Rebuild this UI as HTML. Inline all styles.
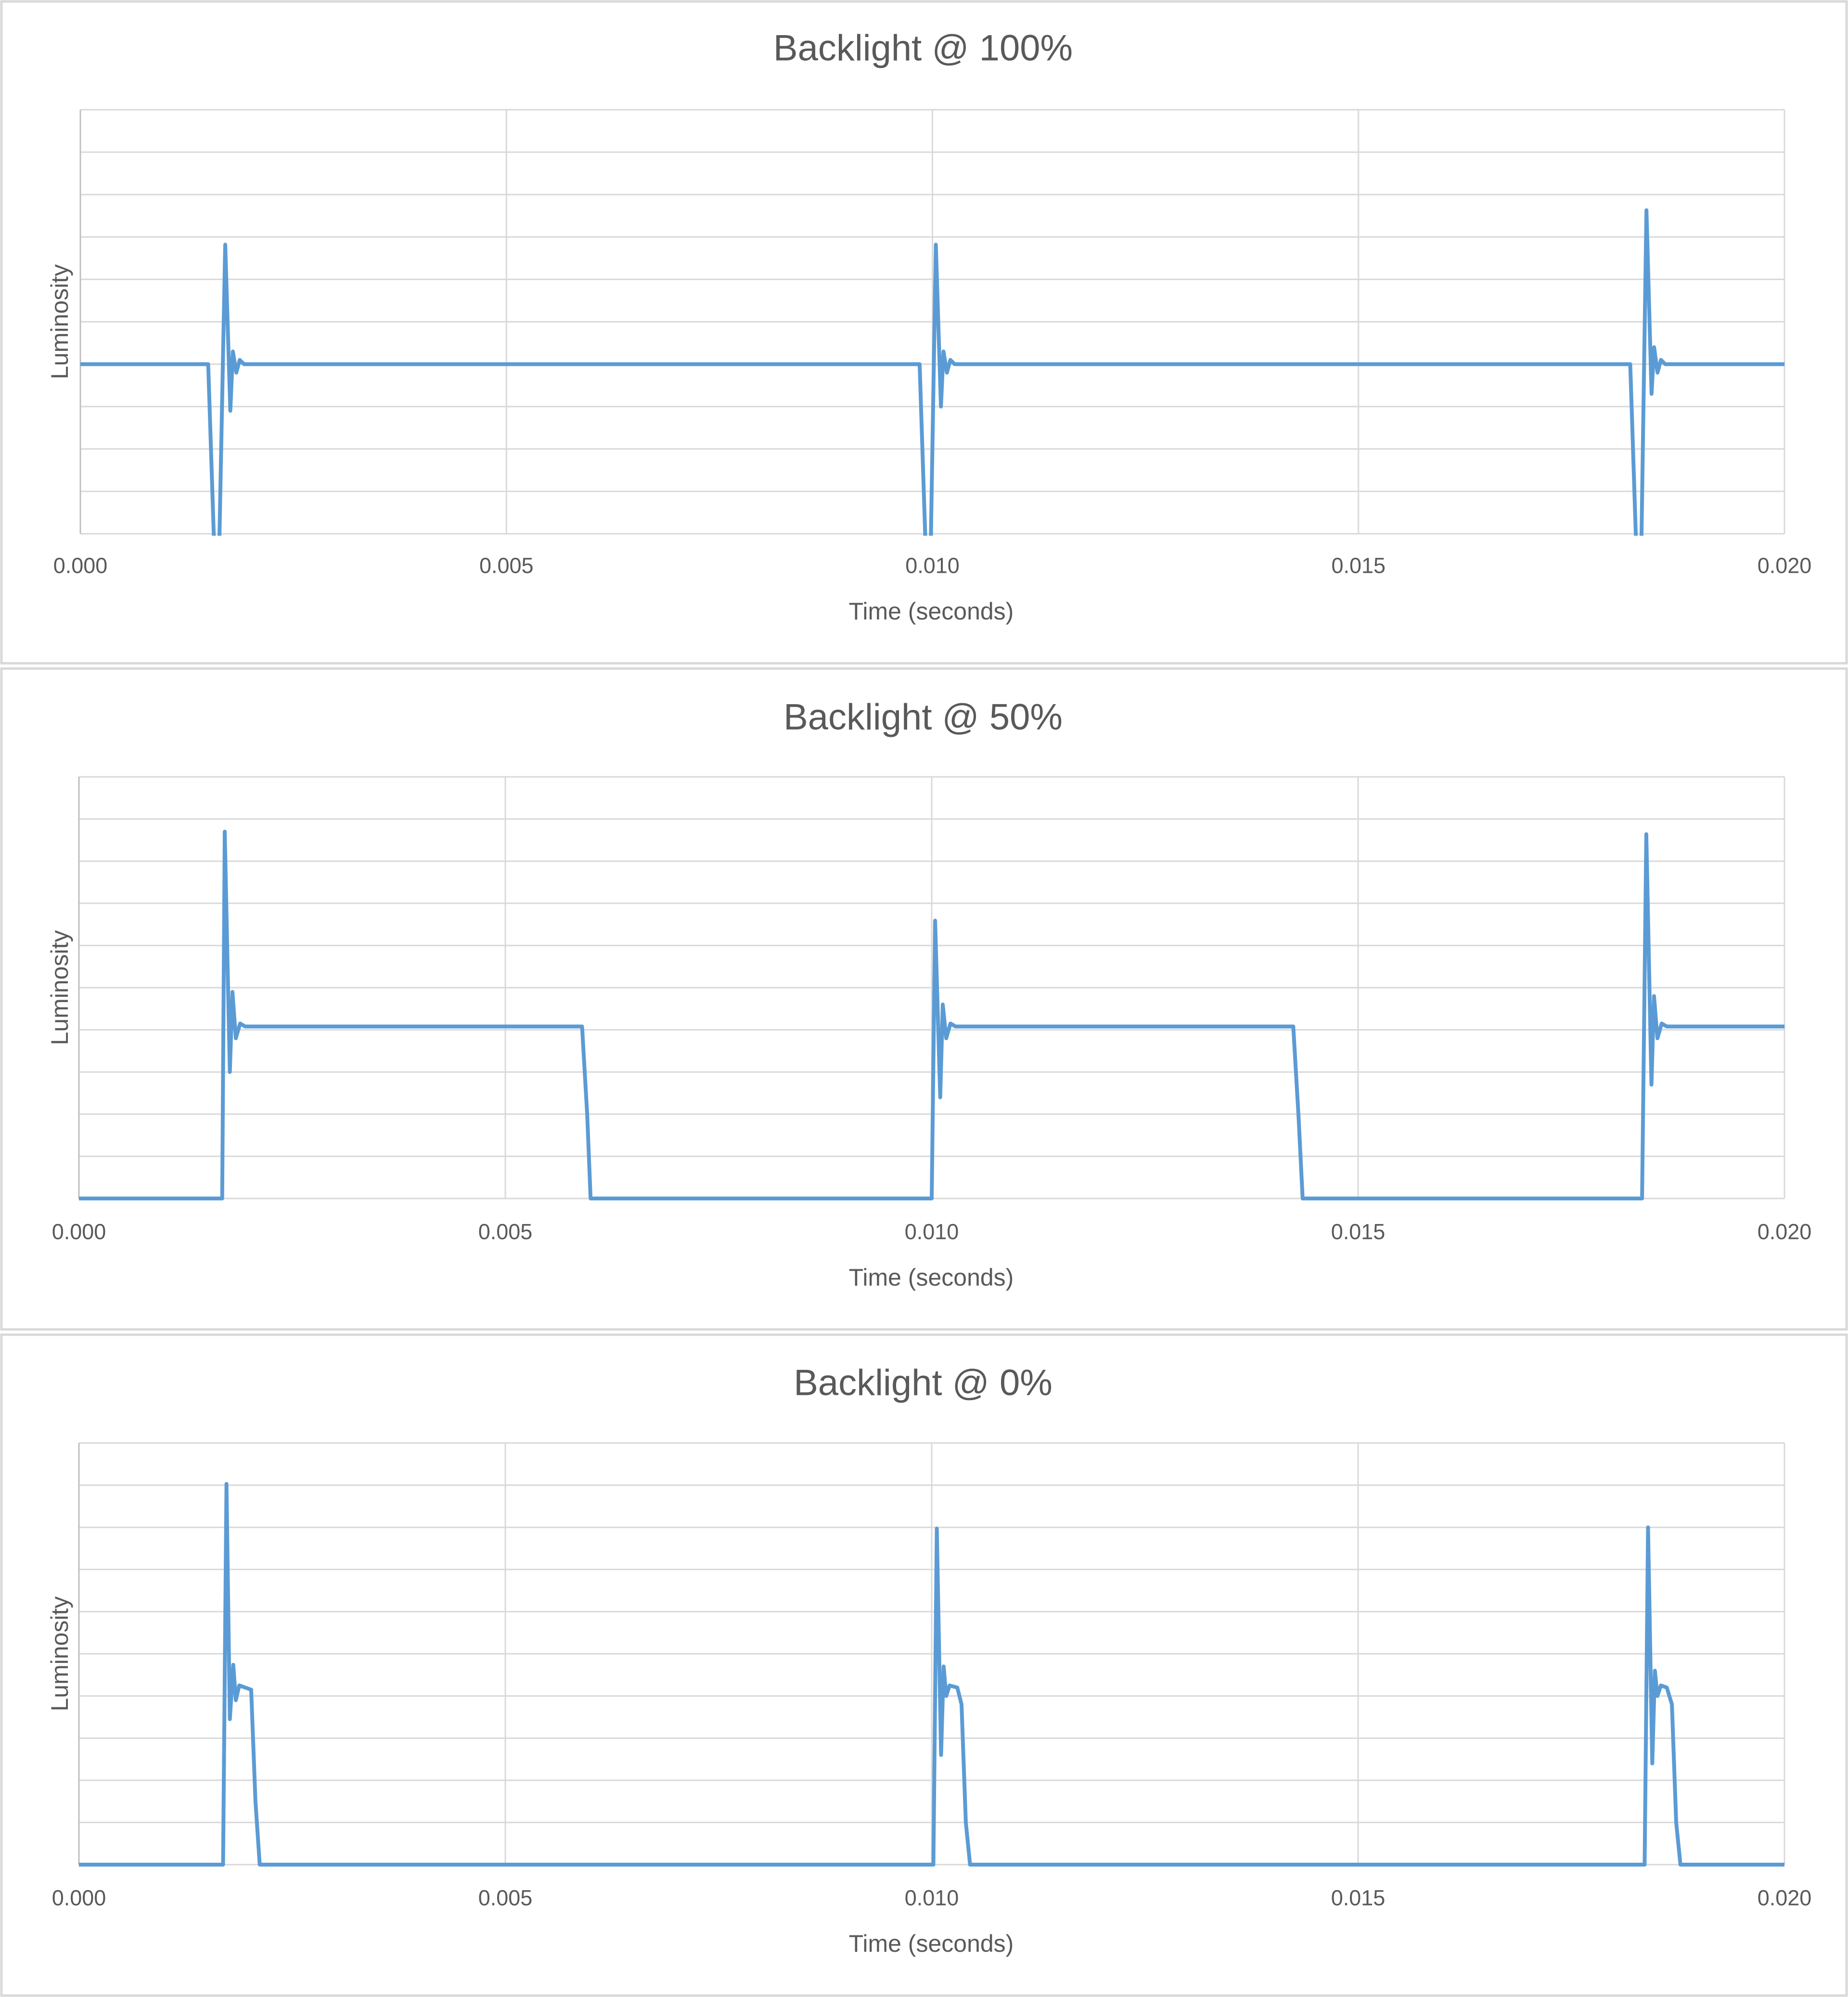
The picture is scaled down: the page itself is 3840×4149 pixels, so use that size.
<!DOCTYPE html>
<html><head><meta charset="utf-8"><style>
html,body{margin:0;padding:0;background:#fff}
svg{display:block}
text{font-family:"Liberation Sans",sans-serif;fill:#595959}
</style></head><body>
<svg id="root" width="3840" height="4149" viewBox="0 0 3840 4149"></svg>
<script>
const xTicks=[0,0.005,0.010,0.015,0.020];
const xTickLabels=["0.000","0.005","0.010","0.015","0.020"];
const titles=["Backlight @ 100%","Backlight @ 50%","Backlight @ 0%"];
const times1=[0,0.00150,0.00157,0.00163,0.00170,0.00176,0.00179,0.00183,0.00187,0.00192,0.00985,0.00992,0.00998,0.01004,0.01010,0.01013,0.01017,0.01021,0.01026,0.01819,0.01826,0.01832,0.01838,0.01844,0.01847,0.01851,0.01855,0.0186,0.02];
const values1=[4.0,4.0,-0.3,-0.3,6.82,2.9,4.3,3.8,4.1,4.0,4.0,-0.3,-0.3,6.82,3.0,4.3,3.8,4.1,4.0,4.0,-0.3,-0.3,7.63,3.3,4.4,3.8,4.1,4.0,4.0];
const times2=[0,0.00168,0.00171,0.00177,0.00180,0.00184,0.00189,0.00195,0.00590,0.00596,0.00600,0.01000,0.01004,0.01010,0.01013,0.01017,0.01022,0.01028,0.01424,0.01430,0.01435,0.01833,0.01838,0.01844,0.01847,0.01851,0.01856,0.01862,0.02];
const values2=[0,0,8.7,3.0,4.9,3.8,4.15,4.08,4.08,2.0,0,0,6.59,2.4,4.6,3.8,4.15,4.08,4.08,2.0,0,0,8.64,2.7,4.8,3.8,4.15,4.08,4.08];
const times3=[0,0.00169,0.00173,0.00177,0.00181,0.00184,0.00188,0.00195,0.00202,0.00207,0.00212,0.01002,0.01006,0.01011,0.01014,0.01017,0.01021,0.01030,0.01035,0.01040,0.01045,0.01836,0.01840,0.01845,0.01848,0.01851,0.01855,0.01862,0.01868,0.01873,0.01878,0.02];
const values3=[0,0,9.03,3.45,4.74,3.9,4.25,4.2,4.15,1.5,0,0,7.97,2.6,4.7,4.0,4.25,4.2,3.8,1.0,0,0,8.0,2.4,4.6,4.0,4.25,4.2,3.8,1.0,0,0];
const yMax=10, yStep=1;

const NS="http://www.w3.org/2000/svg";
const root=document.getElementById('root');
function mk(tag,attrs,parent){const e=document.createElementNS(NS,tag);for(const k in attrs)e.setAttribute(k,attrs[k]);(parent||root).appendChild(e);return e;}

const layouts=[
 {py:0,ph:1381,top:228,bottom:1109,left:167,right:3708,title:100,tick:1175,axis:1270},
 {py:1386,ph:1379,top:1614,bottom:2490,left:164,right:3708,title:1490,tick:2559,axis:2654},
 {py:2770,ph:1379,top:2998,bottom:3874,left:164,right:3708,title:2873,tick:3943,axis:4038}
];
const series=[[times1,values1],[times2,values2],[times3,values3]];

layouts.forEach((L,i)=>{
  const g=mk('g',{});
  
  
  const panel=mk('rect',{x:3,y:L.py+3,width:3834,height:L.ph-6,fill:'#fff',stroke:'#d9d9d9','stroke-width':5},g);
  
  
  const xs=t=>L.left+(t-xTicks[0])/(xTicks[xTicks.length-1]-xTicks[0])*(L.right-L.left);
  const ys=v=>L.bottom-v/yMax*(L.bottom-L.top);
  for(let v=0;v<=yMax;v+=yStep){
    const l=mk('line',{x1:L.left,x2:L.right,y1:ys(v),y2:ys(v),stroke:'#d9d9d9','stroke-width':3},g);
    
    
  }
  xTicks.forEach((t,k)=>{
    const l=mk('line',{x1:xs(t),x2:xs(t),y1:L.top,y2:L.bottom,stroke:k==0?'#bfbfbf':'#d9d9d9','stroke-width':3},g);
    
    
    const tx=mk('text',{x:xs(t),y:L.tick,'font-size':45,'text-anchor':'middle','dominant-baseline':'central'},g);
    tx.textContent=xTickLabels[k];
    
    
  });
  const title=mk('text',{x:1918,y:L.title,'font-size':76,'text-anchor':'middle','dominant-baseline':'central'},g);
  title.textContent=titles[i];
  
  
  const xt=mk('text',{x:1935,y:L.axis,'font-size':50,'text-anchor':'middle','dominant-baseline':'central'},g);
  xt.textContent="Time (seconds)";
  
  
  const cy=(L.top+L.bottom)/2;
  const yt=mk('text',{x:124,y:cy,'font-size':50,'text-anchor':'middle','dominant-baseline':'central',transform:`rotate(-90 124 ${cy})`},g);
  yt.textContent="Luminosity";
  
  
  const cp=mk('clipPath',{id:'clip'+i},g);
  mk('rect',{x:L.left,y:L.top,width:L.right-L.left,height:L.bottom-L.top+4},cp);
  const [T,V]=series[i];
  const d=T.map((t,k)=>(k?'L':'M')+xs(t).toFixed(1)+' '+ys(V[k]).toFixed(1)).join(' ');
  const p=mk('path',{d:d,fill:'none',stroke:'#5b9bd5','stroke-width':8,'stroke-linejoin':'round','clip-path':`url(#clip${i})`},g);
  
  
});
</script>
</body></html>
